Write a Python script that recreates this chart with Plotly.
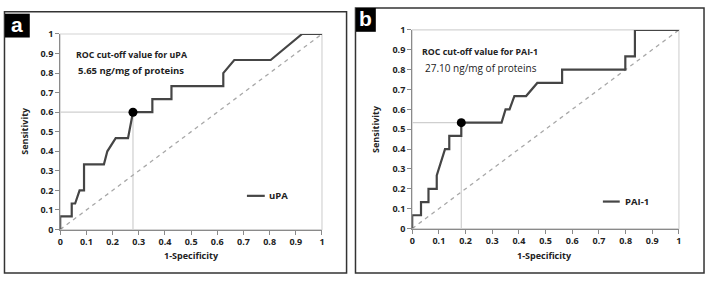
import plotly.graph_objects as go

W, H = 709, 281

# ---- data ----
upa_fpr = [0, 0, 0.044, 0.044, 0.057, 0.074, 0.091, 0.091, 0.167, 0.18, 0.212, 0.259, 0.278,
           0.352, 0.352, 0.425, 0.425, 0.623, 0.623, 0.665, 0.804, 0.924, 1.0]
upa_tpr = [0, 0.067, 0.067, 0.133, 0.133, 0.2, 0.2, 0.333, 0.333, 0.4, 0.467, 0.467, 0.6,
           0.6, 0.667, 0.667, 0.733, 0.733, 0.8, 0.867, 0.867, 1.0, 1.0]
upa_cut = (0.278, 0.6)

pai_fpr = [0, 0, 0.033, 0.033, 0.061, 0.061, 0.092, 0.092, 0.123, 0.139, 0.139, 0.184, 0.184,
           0.335, 0.35, 0.365, 0.383, 0.427, 0.469, 0.562, 0.562, 0.799, 0.799, 0.835, 0.835, 1.0]
pai_tpr = [0, 0.067, 0.067, 0.133, 0.133, 0.2, 0.2, 0.267, 0.4, 0.4, 0.467, 0.467, 0.533,
           0.533, 0.6, 0.6, 0.667, 0.667, 0.733, 0.733, 0.8, 0.8, 0.867, 0.867, 1.0, 1.0]
pai_cut = (0.184, 0.533)

diag = [0, 1]
tick_vals = [0, 0.1, 0.2, 0.3, 0.4, 0.5, 0.6, 0.7, 0.8, 0.9, 1]
tick_text = ["0", "0.1", "0.2", "0.3", "0.4", "0.5", "0.6", "0.7", "0.8", "0.9", "1"]

px = lambda x: x / W
py = lambda y: 1 - y / H

FONT = "Open Sans"
CURVE = "#454545"

fig = go.Figure()

panels = [
    dict(xa="x", ya="y", fpr=upa_fpr, tpr=upa_tpr, cut=upa_cut, name="uPA",
         dom_x=(57.7, 321.7), dom_y=(233.3, 28.3)),
    dict(xa="x2", ya="y2", fpr=pai_fpr, tpr=pai_tpr, cut=pai_cut, name="PAI-1",
         dom_x=(412.7, 681.7), dom_y=(232.3, 24.0)),
]

for p in panels:
    cx, cy = p["cut"]
    fig.add_trace(go.Scatter(x=[cx, cx], y=[0, cy], xaxis=p["xa"], yaxis=p["ya"], mode="lines",
                             line=dict(color="#cfcfcf", width=1.2), showlegend=False, hoverinfo="skip"))
    fig.add_trace(go.Scatter(x=[0, cx], y=[cy, cy], xaxis=p["xa"], yaxis=p["ya"], mode="lines",
                             line=dict(color="#cfcfcf", width=1.2), showlegend=False, hoverinfo="skip"))
    fig.add_trace(go.Scatter(x=diag, y=diag, xaxis=p["xa"], yaxis=p["ya"], mode="lines",
                             line=dict(color="#a8a8a8", width=1.3, dash="4px,4px"),
                             showlegend=False, cliponaxis=False))
    fig.add_trace(go.Scatter(x=p["fpr"], y=p["tpr"], xaxis=p["xa"], yaxis=p["ya"], mode="lines",
                             line=dict(color=CURVE, width=2.2), name=p["name"],
                             showlegend=False, cliponaxis=False))
    fig.add_trace(go.Scatter(x=[cx], y=[cy], xaxis=p["xa"], yaxis=p["ya"], mode="markers",
                             marker=dict(color="black", size=9), showlegend=False, cliponaxis=False))

axis_common = dict(range=[0, 1], tickvals=tick_vals, ticktext=tick_text, showgrid=False,
                   zeroline=False, showline=True, linecolor="#8a8a8a", linewidth=1.2,
                   ticks="outside", ticklen=4, tickcolor="#8a8a8a",
                   tickfont=dict(family=FONT, size=9, color="#222", weight="bold"))

layout = dict(width=W, height=H, margin=dict(l=0, r=0, t=0, b=0),
              paper_bgcolor="white", plot_bgcolor="white", showlegend=False)

for i, p in enumerate(panels):
    sfx = "" if i == 0 else str(i + 1)
    layout["xaxis" + sfx] = dict(axis_common, domain=[px(p["dom_x"][0]), px(p["dom_x"][1])],
                                 anchor="y" + sfx)
    layout["yaxis" + sfx] = dict(axis_common, domain=[py(p["dom_y"][0]), py(p["dom_y"][1])],
                                 anchor="x" + sfx)
fig.update_layout(**layout)

shapes = []
annotations = []

def rect(x0, y0, x1, y1, **kw):
    shapes.append(dict(type="rect", xref="paper", yref="paper", x0=px(x0), x1=px(x1),
                       y0=py(y1), y1=py(y0), **kw))

def line(x0, y0, x1, y1, **kw):
    shapes.append(dict(type="line", xref="paper", yref="paper", x0=px(x0), x1=px(x1),
                       y0=py(y0), y1=py(y1), **kw))

def text(x, y, s, size, bold=True, xanchor="center", color="#222", textangle=0, family=FONT):
    annotations.append(dict(x=px(x), y=py(y), xref="paper", yref="paper", text=s, showarrow=False,
                            xanchor=xanchor, yanchor="middle", textangle=textangle,
                            font=dict(family=family, size=size, color=color,
                                      weight="bold" if bold else "normal")))

# outer panel frames
rect(1.5, 5, 346.5, 279, line=dict(color="#333", width=1.5))
rect(355.5, 1, 707, 279, line=dict(color="#333", width=1.5))
# plot-area light frames
for p in panels:
    rect(p["dom_x"][0], p["dom_y"][1], p["dom_x"][1], p["dom_y"][0],
         line=dict(color="#d4d4d4", width=1.2), layer="below")

# panel labels
rect(2, 7, 27, 32, fillcolor="black", line=dict(width=0))
text(14.5, 18.5, "a", 21, color="white", family="Liberation Sans")
rect(356, 1, 376, 26, fillcolor="black", line=dict(width=0))
text(366, 12.5, "b", 21, color="white", family="Liberation Sans")

# in-plot texts
text(72, 50, "ROC cut-off value for uPA", 8.8, xanchor="left")
text(74, 67, "5.65 ng/mg of proteins", 9.5, xanchor="left")
text(421, 47, "ROC cut-off value for PAI-1", 8.8, xanchor="left")
text(424, 64, "27.10 ng/mg of proteins", 10, bold=False, xanchor="left")

# legends
line(246, 198, 264, 198, line=dict(color=CURVE, width=2.2))
text(266, 198, "uPA", 9.5, xanchor="left")
line(605, 204, 622, 204, line=dict(color=CURVE, width=2.2))
text(625, 204, "PAI-1", 9.5, xanchor="left")

# axis titles
text(190, 261, "1-Specificity", 9)
text(546, 261, "1-Specificity", 9)
text(22, 130, "Sensitivity", 9, textangle=-90)
text(375, 128, "Sensitivity", 9, textangle=-90)

fig.update_layout(shapes=shapes, annotations=annotations)
fig.write_html("out.html", config={"displayModeBar": False},
               post_script="document.body.style.margin='0';")
